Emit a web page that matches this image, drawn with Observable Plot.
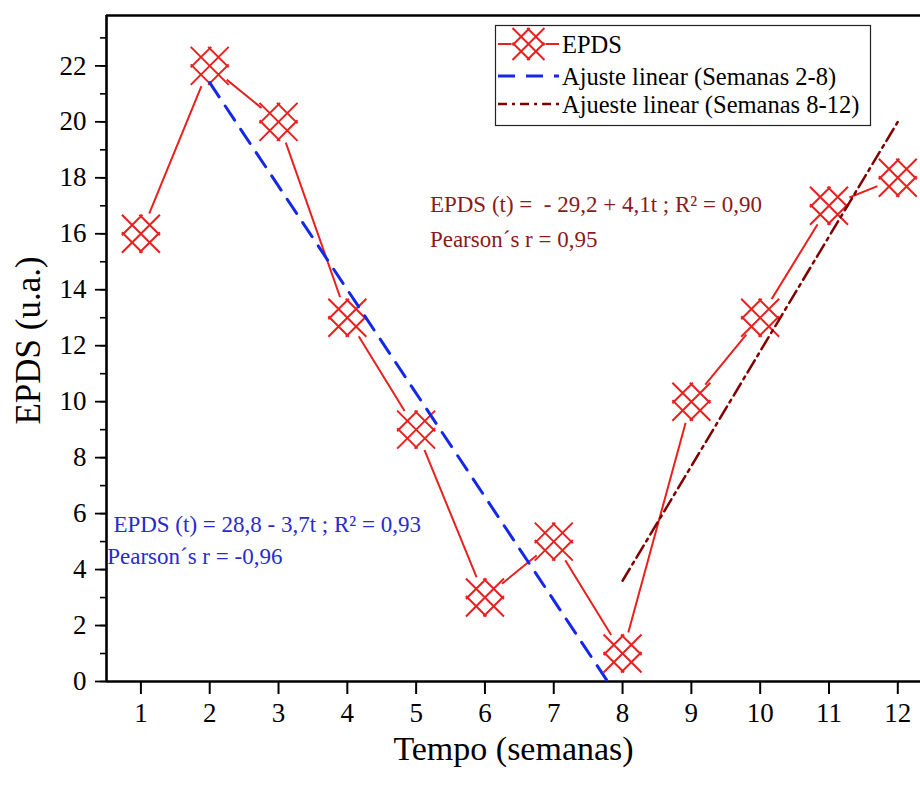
<!DOCTYPE html>
<html>
<head>
<meta charset="utf-8">
<script src="https://cdn.jsdelivr.net/npm/d3@7"></script>
<script src="https://cdn.jsdelivr.net/npm/@observablehq/plot@0.6"></script>
<style>
  html, body { margin: 0; padding: 0; background: #fff; }
  #wrap { position: relative; width: 920px; height: 785px; overflow: hidden; }
  #legend { position: absolute; left: 0; top: 0; }
  svg text { font-family: "Liberation Serif", "DejaVu Serif", serif; }
</style>
</head>
<body>
<div id="wrap"></div>
<script>
// ---- data ----
const weeks = [1, 2, 3, 4, 5, 6, 7, 8, 9, 10, 11, 12];
const epds = [16, 22, 20, 13, 9, 3, 5, 1, 10, 13, 17, 18];
// linear fits (intercept, slope) and their ranges
const fit1 = {a: 28.8, b: -3.7, from: 2, to: 28.8 / 3.7};
const fit2 = {a: -29.2, b: 4.1, from: 8, to: 12};
const xTicks = [1, 2, 3, 4, 5, 6, 7, 8, 9, 10, 11, 12];
const yTicks = [0, 2, 4, 6, 8, 10, 12, 14, 16, 18, 20, 22];
const yMinor = d3.range(0, 24, 1);
const legendLabels = ["EPDS", "Ajuste linear (Semanas 2-8)", "Ajueste linear (Semanas 8-12)"];
const note1 = ["EPDS (t) = 28,8 - 3,7t ; R\u00B2 = 0,93", "Pearson\u00B4s r = -0,96"];
const note2 = ["EPDS (t) =  - 29,2 + 4,1t ; R\u00B2 = 0,90", "Pearson\u00B4s r = 0,95"];

const RED = "#e8201e", BLUE = "#1428e6", DRED = "#800000";
const BLUE_TXT = "#2a2ad0", DRED_TXT = "#8b1a1a";
const FONT = "Liberation Serif";

const pts = weeks.map((w, i) => ({w, v: epds[i]}));
const line1 = [fit1.from, fit1.to].map(t => ({t, v: fit1.a + fit1.b * t}));
const line2 = [fit2.from, fit2.to].map(t => ({t, v: fit2.a + fit2.b * t}));

// custom lattice symbol (Origin-like crossed diamond inside a square)
const lattice = {
  draw(ctx, size) {
    const h = Math.sqrt(size / Math.PI);
    const a = h * 0.92;
    for (const k of [-1, 0, 1]) {
      const c = k * a;
      const x0 = Math.max(-h, c - h), x1 = Math.min(h, c + h);
      // line x - y = c
      ctx.moveTo(x0, x0 - c); ctx.lineTo(x1, x1 - c);
      // line x + y = c
      ctx.moveTo(x0, c - x0); ctx.lineTo(x1, c - x1);
    }
  }
};

const X0 = 0.5, X1 = 12.33, Y1 = 23.8;

const chart = Plot.plot({
  width: 920,
  height: 785,
  marginLeft: 106,
  marginRight: 0,
  marginTop: 15,
  marginBottom: 104,
  style: {fontFamily: FONT, background: "#fff"},
  x: {domain: [X0, X1]},
  y: {domain: [0, Y1]},
  marks: [
    // minor y ticks
    Plot.axisY({ticks: yMinor, tickSize: 6, text: null, label: null, strokeWidth: 1.6, stroke: "#000"}),
    // major y ticks + labels
    Plot.axisY({ticks: yTicks, tickSize: 11, tickPadding: 9, fontSize: 27, fontFamily: FONT, label: null, strokeWidth: 1.8, stroke: "#000", fill: "#000"}),
    // x ticks + labels
    Plot.axisX({ticks: xTicks, tickSize: 13, tickPadding: 8, fontSize: 27, fontFamily: FONT, label: null, strokeWidth: 2, stroke: "#000", fill: "#000"}),
    // frame (top, left, bottom)
    Plot.ruleY([0], {stroke: "#000", strokeWidth: 2.6}),
    Plot.ruleY([Y1], {stroke: "#000", strokeWidth: 2.6}),
    Plot.ruleX([X0], {stroke: "#000", strokeWidth: 2.6}),
    // axis titles
    Plot.text(["Tempo (semanas)"], {frameAnchor: "bottom", dy: 78, text: d => d, fontSize: 34, fontFamily: FONT, fill: "#000"}),
    Plot.text(["EPDS (u.a.)"], {frameAnchor: "left", textAnchor: "middle", dx: -78, dy: -8, rotate: -90, text: d => d, fontSize: 35, fontFamily: FONT, fill: "#000"}),
    // data line
    Plot.line(pts, {x: "w", y: "v", stroke: RED, strokeWidth: 2}),
    // gaps around the symbols
    Plot.dot(pts, {x: "w", y: "v", r: 22, fill: "#fff", stroke: null}),
    Plot.dot(pts, {x: "w", y: "v", r: 19, symbol: lattice, stroke: RED, strokeWidth: 2, fill: "none"}),
    // linear fits
    Plot.line(line1, {x: "t", y: "v", stroke: BLUE, strokeWidth: 3, strokeDasharray: "17,11"}),
    Plot.line(line2, {x: "t", y: "v", stroke: DRED, strokeWidth: 2.5, strokeDasharray: "14,5,3,5"}),
    // annotations
    Plot.text([note1[0]], {x: 0.6, y: 5.6, text: d => d, textAnchor: "start", fill: BLUE_TXT, fontSize: 23, fontFamily: FONT}),
    Plot.text([note1[1]], {x: 0.51, y: 4.45, text: d => d, textAnchor: "start", fill: BLUE_TXT, fontSize: 23, fontFamily: FONT}),
    Plot.text([note2[0]], {x: 5.2, y: 17.05, text: d => d, textAnchor: "start", fill: DRED_TXT, fontSize: 23, fontFamily: FONT}),
    Plot.text([note2[1]], {x: 5.2, y: 15.8, text: d => d, textAnchor: "start", fill: DRED_TXT, fontSize: 23, fontFamily: FONT})
  ]
});

const wrap = document.getElementById("wrap");
wrap.appendChild(chart);

// legend overlay
const leg = d3.select(wrap).append("svg").attr("id", "legend").attr("width", 920).attr("height", 150);
leg.append("rect").attr("x", 495.5).attr("y", 25.5).attr("width", 375).attr("height", 100)
  .attr("fill", "#fff").attr("stroke", "#222").attr("stroke-width", 1.2);
const rowsY = [44, 76, 104];
const sx0 = 498, sx1 = 559, tx = 562;
// row 1: red line + symbol
leg.append("line").attr("x1", sx0).attr("x2", sx1).attr("y1", rowsY[0]).attr("y2", rowsY[0]).attr("stroke", RED).attr("stroke-width", 2);
leg.append("circle").attr("cx", (sx0 + sx1) / 2).attr("cy", rowsY[0]).attr("r", 17).attr("fill", "#fff");
leg.append("path").attr("transform", `translate(${(sx0 + sx1) / 2},${rowsY[0]})`)
  .attr("d", d3.symbol(lattice, Math.PI * 16 * 16)()).attr("stroke", RED).attr("stroke-width", 2).attr("fill", "none");
// row 2: blue dashed
leg.append("line").attr("x1", sx0).attr("x2", sx1).attr("y1", rowsY[1]).attr("y2", rowsY[1]).attr("stroke", BLUE).attr("stroke-width", 3).attr("stroke-dasharray", "17,11");
// row 3: dark red dash-dot
leg.append("line").attr("x1", sx0).attr("x2", sx1).attr("y1", rowsY[2]).attr("y2", rowsY[2]).attr("stroke", DRED).attr("stroke-width", 2.5).attr("stroke-dasharray", "9,5,3,5");
legendLabels.forEach((t, i) => {
  leg.append("text").attr("x", tx).attr("y", rowsY[i]).attr("dy", "0.35em")
    .attr("font-family", FONT).attr("font-size", 24.5).attr("fill", "#000").text(t);
});
</script>
</body>
</html>
